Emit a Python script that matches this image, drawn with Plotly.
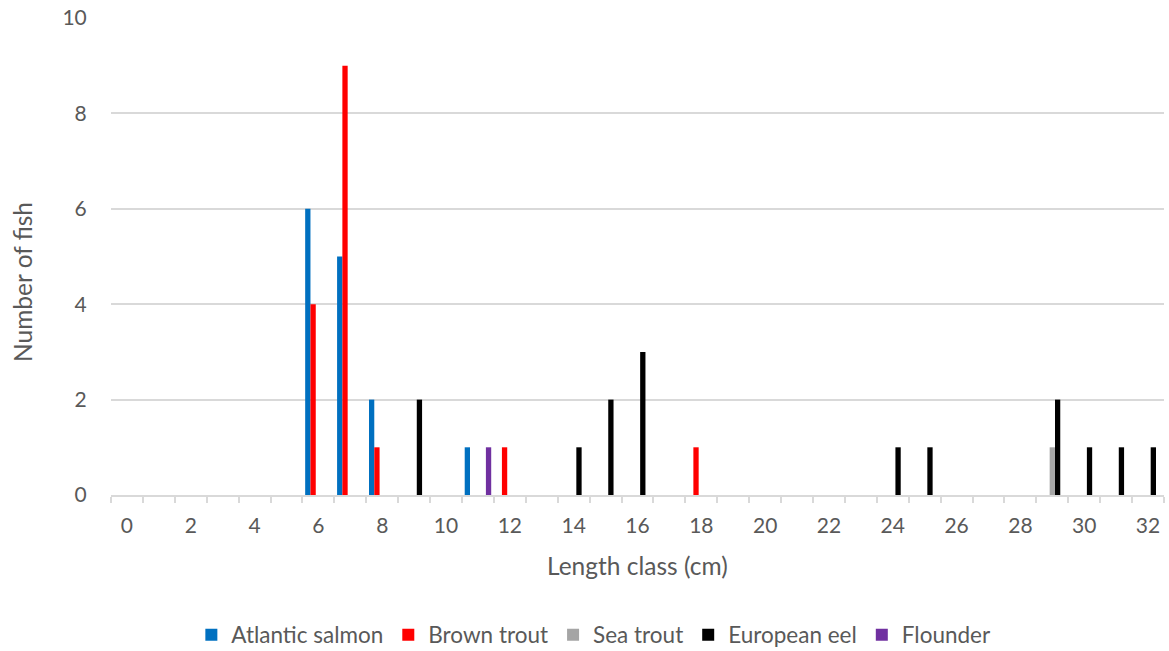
import plotly.graph_objects as go

# Length classes (cm)
length_class = list(range(0, 33))

atlantic_salmon = [0, 0, 0, 0, 0, 0, 6, 5, 2, 0, 0, 1, 0, 0, 0, 0, 0,
                   0, 0, 0, 0, 0, 0, 0, 0, 0, 0, 0, 0, 0, 0, 0, 0]
brown_trout = [0, 0, 0, 0, 0, 0, 4, 9, 1, 0, 0, 0, 1, 0, 0, 0, 0,
               0, 1, 0, 0, 0, 0, 0, 0, 0, 0, 0, 0, 0, 0, 0, 0]
sea_trout = [0, 0, 0, 0, 0, 0, 0, 0, 0, 0, 0, 0, 0, 0, 0, 0, 0,
             0, 0, 0, 0, 0, 0, 0, 0, 0, 0, 0, 0, 1, 0, 0, 0]
european_eel = [0, 0, 0, 0, 0, 0, 0, 0, 0, 2, 0, 0, 0, 0, 1, 2, 3,
                0, 0, 0, 0, 0, 0, 0, 1, 1, 0, 0, 0, 2, 1, 1, 1]
flounder = [0, 0, 0, 0, 0, 0, 0, 0, 0, 0, 0, 1, 0, 0, 0, 0, 0,
            0, 0, 0, 0, 0, 0, 0, 0, 0, 0, 0, 0, 0, 0, 0, 0]

series = [
    ("Atlantic salmon", atlantic_salmon, "#0070C0"),
    ("Brown trout", brown_trout, "#FF0000"),
    ("Sea trout", sea_trout, "#A5A5A5"),
    ("European eel", european_eel, "#000000"),
    ("Flounder", flounder, "#7030A0"),
]

x_tick_vals = list(range(0, 33, 2))
y_tick_vals = [0, 2, 4, 6, 8, 10]

FONT = "Lato"
TXT = "#595959"

fig = go.Figure()
for name, vals, col in series:
    fig.add_trace(go.Bar(x=length_class, y=vals, name=name,
                         marker=dict(color=col, line=dict(width=0))))

W, H = 1169, 651
L, R, T, B = 111, 5, 18, 156
pw = W - L - R
ph = H - T - B

fig.update_layout(
    width=W, height=H,
    margin=dict(l=L, r=R, t=T, b=B),
    paper_bgcolor="white", plot_bgcolor="white",
    barmode="group", bargap=0.17, bargroupgap=0,
    font=dict(family=FONT, size=21, color=TXT),
    showlegend=True,
    legend=dict(orientation="h", xref="container", x=0.508, xanchor="center",
                yref="container", y=(H - 635) / H, yanchor="middle",
                font=dict(family=FONT, size=22.5, color=TXT),
                itemwidth=30, traceorder="normal", itemclick=False),
    xaxis=dict(range=[-0.5, 32.5], tickmode="array", tickvals=x_tick_vals,
               ticks="outside", ticklen=11, tickcolor="rgba(0,0,0,0)",
               showgrid=False, zeroline=False,
               showline=True, linecolor="#D9D9D9", linewidth=1.5,
               tickfont=dict(family=FONT, size=21, color=TXT),
               minor=dict(tick0=-0.5, dtick=1, ticks="outside", ticklen=6,
                          tickcolor="#D9D9D9", tickwidth=1.5, showgrid=False)),
    yaxis=dict(range=[0, 10], tickmode="array", tickvals=y_tick_vals,
               showgrid=True, gridcolor="#D9D9D9", gridwidth=1.5,
               zeroline=False, showline=False,
               ticks="outside", ticklen=19, tickcolor="rgba(0,0,0,0)",
               tickfont=dict(family=FONT, size=21, color=TXT)),
    annotations=[
        dict(text="Number of fish", xref="paper", yref="paper",
             x=(22 - L) / pw, y=(T + ph - 282) / ph, xanchor="center",
             yanchor="middle", textangle=-90, showarrow=False,
             font=dict(family=FONT, size=24.5, color=TXT)),
        dict(text="Length class (cm)", xref="paper", yref="paper",
             x=(637 - L) / pw, y=-(565 - (T + ph)) / ph, xanchor="center",
             yanchor="middle", showarrow=False,
             font=dict(family=FONT, size=24.5, color=TXT)),
    ],
)

fig.write_html("out.html",
               config={"displayModeBar": False},
               post_script="document.body.style.margin='0';"
                           "document.body.style.overflow='hidden';")
